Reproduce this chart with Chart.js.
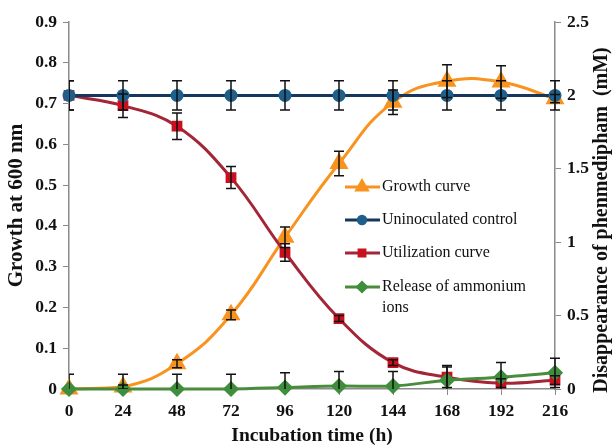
<!DOCTYPE html>
<html>
<head>
<meta charset="utf-8">
<script src="https://cdn.jsdelivr.net/npm/chart.js@4.4.1/dist/chart.umd.min.js"></script>
<style>
  html, body { margin: 0; padding: 0; background: #fff; }
  #wrap { width: 615px; height: 448px; position: relative; }
</style>
</head>
<body>
<div id="wrap"><canvas id="phenChart" width="615" height="448"></canvas></div>
<script>
// sampling times (h)
const hours = [0, 24, 48, 72, 96, 120, 144, 168, 192, 216];

// growth at 600 nm (left axis)
const growth    = [0, 0.005, 0.062, 0.182, 0.372, 0.553, 0.703, 0.755, 0.753, 0.712];
const growthErr = [0, 0.005, 0.01, 0.012, 0.025, 0.03, 0.03, 0.04, 0.04, 0.01];

// phenmedipham, mM (right axis)
const control       = [2, 2, 2, 2, 2, 2, 2, 2, 2, 2];
const controlErr    = [0.1, 0.1, 0.1, 0.1, 0.1, 0.1, 0.1, 0.1, 0.1, 0.1];
const utilization   = [2.0, 1.93, 1.79, 1.44, 0.93, 0.48, 0.18, 0.08, 0.04, 0.06];
const utilizationErr= [0.1, 0.08, 0.09, 0.075, 0.06, 0.02, 0.02, 0.07, 0.03, 0.03];
const ammonium      = [0, 0, 0, 0, 0.01, 0.02, 0.02, 0.06, 0.08, 0.11];
const ammoniumErr   = [0.1, 0.1, 0.1, 0.1, 0.1, 0.1, 0.1, 0.1, 0.1, 0.1];

const leftTicks  = [0, 0.1, 0.2, 0.3, 0.4, 0.5, 0.6, 0.7, 0.8, 0.9];
const rightTicks = [0, 0.5, 1, 1.5, 2, 2.5];

const pts = (arr) => hours.map((h, i) => ({ x: h, y: arr[i] }));
const serif = "'Liberation Serif', 'Times New Roman', serif";
const axisGray = '#8a8a8a';
const tickFont = { family: serif, size: 17.5, weight: 'bold' };
const plain = (v) => String(v);

// error bars drawn on top of the lines
const errorBars = {
  id: 'errorBars',
  afterDatasetsDraw(chart) {
    const ctx = chart.ctx, a = chart.chartArea;
    ctx.save();
    ctx.beginPath();
    ctx.rect(a.left, a.top - 10, a.right - a.left + 10, a.bottom - a.top + 10);
    ctx.clip();
    ctx.strokeStyle = '#111';
    ctx.lineWidth = 1.5;
    chart.data.datasets.forEach((ds, di) => {
      if (!ds.errors) return;
      const meta = chart.getDatasetMeta(di);
      const ys = chart.scales[ds.yAxisID];
      meta.data.forEach((p, i) => {
        const e = ds.errors[i];
        if (!e) return;
        const v = ds.data[i].y;
        const t = ys.getPixelForValue(v + e), b = ys.getPixelForValue(v - e);
        ctx.beginPath();
        ctx.moveTo(p.x, t); ctx.lineTo(p.x, b);
        ctx.moveTo(p.x - 5, t); ctx.lineTo(p.x + 5, t);
        ctx.moveTo(p.x - 5, b); ctx.lineTo(p.x + 5, b);
        ctx.stroke();
      });
    });
    ctx.restore();
  }
};

// legend inside the plot + right axis title (reads bottom to top)
const extras = {
  id: 'extras',
  afterDraw(chart) {
    const ctx = chart.ctx;
    ctx.save();
    const rows = [
      { ds: 0, y: 187 }, { ds: 1, y: 220 }, { ds: 2, y: 253 }, { ds: 3, y: 287 }
    ];
    ctx.font = '16px ' + serif;
    ctx.textBaseline = 'middle';
    rows.forEach(r => {
      const ds = chart.data.datasets[r.ds];
      ctx.strokeStyle = ds.borderColor;
      ctx.lineWidth = 3;
      ctx.beginPath(); ctx.moveTo(345, r.y); ctx.lineTo(380, r.y); ctx.stroke();
      ctx.fillStyle = ds.pointBackgroundColor;
      ctx.strokeStyle = ds.pointBorderColor;
      Chart.helpers.drawPoint(ctx, { pointStyle: ds.pointStyle, radius: ds.pointRadius * 0.75, borderWidth: 1 }, 362, r.y);
      ctx.fillStyle = '#111';
      const lines = Array.isArray(ds.legendText) ? ds.legendText : [ds.label];
      lines.forEach((txt, k) => ctx.fillText(txt, 382, r.y + k * 21));
    });
    // right axis title
    ctx.translate(602, 220);
    ctx.rotate(-Math.PI / 2);
    ctx.font = 'bold 20px ' + serif;
    ctx.textAlign = 'center';
    ctx.fillStyle = '#111';
    ctx.fillText('Disappearance of phenmedipham  (mM)', 0, 0);
    ctx.restore();
  }
};

new Chart(document.getElementById('phenChart'), {
  type: 'line',
  data: {
    datasets: [
      {
        label: 'Growth curve', data: pts(growth), errors: growthErr, yAxisID: 'yL',
        borderColor: '#F7931E', backgroundColor: '#F7931E', pointBackgroundColor: '#F7931E',
        pointBorderColor: '#F7931E', pointStyle: 'triangle', pointRadius: 8, borderWidth: 3,
        tension: 0.45, order: 3
      },
      {
        label: 'Uninoculated control', data: pts(control), errors: controlErr, yAxisID: 'yR',
        borderColor: '#16365C', backgroundColor: '#1F5F8B', pointBackgroundColor: '#1F5F8B',
        pointBorderColor: '#1F5F8B', pointStyle: 'circle', pointRadius: 5, borderWidth: 3,
        tension: 0, order: 0
      },
      {
        label: 'Utilization curve', data: pts(utilization), errors: utilizationErr, yAxisID: 'yR',
        borderColor: '#A32638', backgroundColor: '#C8101E', pointBackgroundColor: '#C8101E',
        pointBorderColor: '#C8101E', pointStyle: 'rect', pointRadius: 5.5, borderWidth: 3,
        tension: 0.4, order: 2
      },
      {
        label: 'Release of ammonium ions', legendText: ['Release of ammonium', 'ions'],
        data: pts(ammonium), errors: ammoniumErr, yAxisID: 'yR',
        borderColor: '#4A8C3B', backgroundColor: '#3E8E3E', pointBackgroundColor: '#3E8E3E',
        pointBorderColor: '#3E8E3E', pointStyle: 'rectRot', pointRadius: 6, borderWidth: 3,
        tension: 0.3, order: 1
      }
    ]
  },
  options: {
    responsive: false,
    animation: false,
    devicePixelRatio: 1,
    layout: { padding: { top: 22, left: 0, right: 0, bottom: 0 } },
    plugins: { legend: { display: false }, tooltip: { enabled: false } },
    elements: { line: { fill: false }, point: { hitRadius: 0 } },
    datasets: { line: { clip: false } },
    scales: {
      x: {
        type: 'linear', min: 0, max: 216,
        afterFit: (s) => { s.height = 59; },
        afterBuildTicks: (s) => { s.ticks = hours.map(v => ({ value: v })); },
        ticks: { font: tickFont, color: '#111', padding: 6, maxRotation: 0, autoSkip: false, callback: plain },
        grid: { drawOnChartArea: false, color: axisGray, tickLength: 6 },
        border: { color: axisGray, width: 1.5 },
        title: { display: true, text: 'Incubation time (h)', color: '#111',
                 font: { family: serif, size: 19.5, weight: 'bold' }, padding: { top: 4, bottom: 0 } }
      },
      yL: {
        position: 'left', min: 0, max: 0.9,
        afterFit: (s) => { s.width = 69; },
        afterBuildTicks: (s) => { s.ticks = leftTicks.map(v => ({ value: v })); },
        ticks: { font: tickFont, color: '#111', padding: 6, autoSkip: false, callback: plain },
        grid: { drawOnChartArea: false, color: axisGray, tickLength: 6 },
        border: { color: axisGray, width: 1.5 },
        title: { display: true, text: 'Growth at 600 nm', color: '#111',
                 font: { family: serif, size: 21, weight: 'bold' }, padding: { top: 4, bottom: 0 } }
      },
      yR: {
        position: 'right', min: 0, max: 2.5,
        afterFit: (s) => { s.width = 60; },
        afterBuildTicks: (s) => { s.ticks = rightTicks.map(v => ({ value: v })); },
        ticks: { font: tickFont, color: '#111', padding: 6, autoSkip: false, callback: plain },
        grid: { drawOnChartArea: false, color: axisGray, tickLength: 6 },
        border: { color: axisGray, width: 1.5 }
      }
    }
  },
  plugins: [errorBars, extras]
});
</script>
</body>
</html>
